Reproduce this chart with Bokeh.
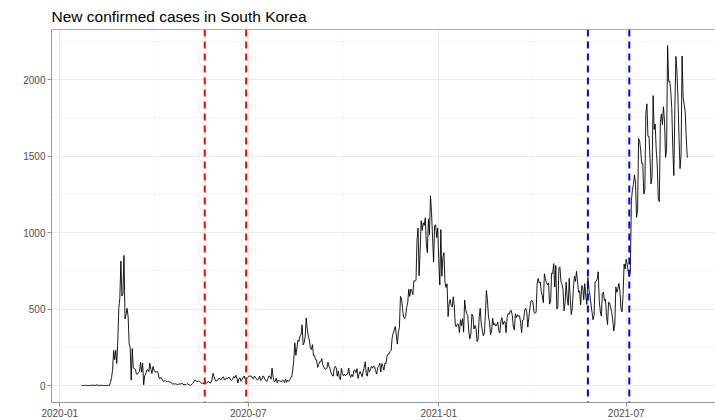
import pandas as pd
from bokeh.plotting import figure
from bokeh.models import (Range1d, FixedTicker, DatetimeTickFormatter, Span,
                          DatetimeAxis, ColumnDataSource)
from bokeh.embed import file_html
from bokeh.resources import INLINE

# ---------------- data (daily new confirmed cases) -------
START_DATE = "2020-01-22"

m2020_01 = [1, 0, 0, 1, 1, 0, 1, 0, 0, 2]
m2020_02 = [1, 3, 0, 1, 2, 5, 1, 0, 3, 0, 1, 0, 0, 0, 0, 1, 1, 1, 20, 53,
            100, 229, 169, 231, 144, 284, 505, 571, 813]
m2020_03 = [586, 599, 851, 435, 467, 505, 448, 272, 248, 35, 242, 114, 110, 107, 76,
            74, 84, 93, 152, 87, 147, 5, 64, 76, 100, 104, 91, 146, 105, 78, 125]
m2020_04 = [101, 89, 86, 94, 81, 47, 47, 53, 39, 27, 30, 32, 25, 27, 27,
            22, 22, 18, 8, 13, 9, 11, 8, 6, 10, 10, 10, 14, 9, 4]
m2020_05 = [9, 6, 13, 8, 3, 2, 4, 12, 18, 34, 35, 27, 26, 29, 27, 19,
            13, 15, 13, 32, 12, 20, 23, 25, 16, 19, 40, 79, 58, 39, 27]
m2020_06 = [35, 38, 49, 39, 39, 51, 57, 38, 38, 50, 45, 56, 49, 37, 34,
            43, 59, 49, 67, 48, 17, 46, 51, 28, 39, 51, 62, 42, 43, 50]
m2020_07 = [54, 63, 61, 63, 48, 44, 62, 50, 45, 35, 44, 62, 33, 39, 61, 60,
            39, 34, 26, 45, 63, 59, 41, 113, 58, 25, 28, 48, 18, 36, 31]
m2020_08 = [30, 23, 34, 33, 20, 43, 20, 36, 28, 34, 54, 56, 103, 166, 279, 197,
            246, 297, 288, 324, 332, 397, 266, 280, 320, 441, 371, 323, 299, 248, 235]
m2020_09 = [267, 195, 198, 168, 167, 119, 136, 156, 155, 176, 136, 121, 109, 106, 113,
            153, 126, 110, 82, 70, 61, 110, 125, 114, 61, 95, 50, 38, 113, 77]
m2020_10 = [63, 75, 64, 73, 75, 114, 69, 54, 72, 58, 97, 102, 84, 110, 47, 73,
            91, 76, 58, 91, 121, 155, 77, 61, 119, 88, 103, 125, 114, 127, 124]
m2020_11 = [97, 75, 118, 125, 145, 89, 143, 126, 100, 146, 143, 191, 205, 208, 223,
            230, 313, 343, 363, 386, 330, 271, 349, 382, 583, 569, 504, 450, 438, 451]
m2020_12 = [511, 540, 629, 583, 631, 615, 594, 686, 682, 689, 950, 1030, 718, 880, 1078,
            1014, 1064, 1047, 1097, 926, 869, 1090, 985, 1241, 1132, 970, 808, 1046,
            1050, 967, 1029]
m2021_01 = [824, 657, 1020, 715, 838, 869, 674, 641, 665, 451, 537, 562, 524, 513, 580,
            520, 389, 386, 404, 400, 346, 431, 392, 437, 349, 559, 497, 469, 458, 355, 305]
m2021_02 = [336, 467, 451, 370, 393, 372, 288, 303, 444, 504, 403, 362, 326, 344,
            457, 621, 561, 448, 416, 332, 356, 440, 396, 406, 388, 395, 415, 356]
m2021_03 = [344, 424, 444, 398, 418, 416, 346, 446, 470, 465, 488, 490, 459, 382, 363,
            469, 445, 463, 452, 456, 415, 346, 428, 430, 494, 505, 482, 382, 447, 506, 551]
m2021_04 = [557, 543, 477, 473, 478, 668, 700, 671, 677, 614, 587, 542, 731, 698, 673,
            658, 672, 532, 549, 735, 731, 797, 644, 785, 500, 512, 769, 775, 679, 661]
m2021_05 = [627, 488, 541, 676, 574, 525, 701, 564, 463, 511, 635, 715, 681, 747, 681,
            610, 619, 528, 654, 646, 561, 666, 585, 530, 707, 629, 587, 533, 480, 430, 459]
m2021_06 = [677, 681, 695, 744, 556, 485, 454, 602, 611, 556, 565, 452, 399, 545, 540,
            507, 482, 429, 357, 395, 645, 610, 634, 668, 614, 501, 482, 595, 794, 762]
m2021_07 = [826, 794, 743, 711, 746, 1212, 1275, 1316, 1378, 1324, 1100, 1150, 1615,
            1600, 1536, 1452, 1454, 1252, 1278, 1781, 1842, 1630, 1629, 1487, 1318,
            1365, 1896, 1674, 1710, 1539, 1442]
m2021_08 = [1219, 1202, 1725, 1776, 1704, 1823, 1729, 1492, 1537, 2223, 1987, 1990,
            1930, 1816, 1556, 1373, 1805, 2152, 2052, 1880, 1628, 1418, 1509, 2155,
            1880, 1840, 1790, 1620, 1490]

cases = (m2020_01 + m2020_02 + m2020_03 + m2020_04 + m2020_05 + m2020_06 +
         m2020_07 + m2020_08 + m2020_09 + m2020_10 + m2020_11 + m2020_12 +
         m2021_01 + m2021_02 + m2021_03 + m2021_04 + m2021_05 + m2021_06 +
         m2021_07 + m2021_08)

red_dates = ["2020-05-20", "2020-06-29"]
blue_dates = ["2021-05-25", "2021-07-04"]

x_tick_dates = ["2020-01-01", "2020-07-01", "2021-01-01", "2021-07-01"]
x_minor_dates = ["2020-04-01", "2020-10-01", "2021-04-01"]
y_ticks = [0, 500, 1000, 1500, 2000]
y_minor = [250, 750, 1250, 1750, 2250]

TITLE = "New confirmed cases in South Korea"

# ---------------- build ------------------------------------------------------
dates = pd.date_range(START_DATE, periods=len(cases), freq="D")
src = ColumnDataSource(data=dict(date=dates, cases=cases))


def ms(d):
    return pd.Timestamp(d).value / 1e6


FONT = "Liberation Sans"

p = figure(width=715, height=420, x_axis_type="datetime",
           output_backend="svg", toolbar_location=None,
           x_range=Range1d(pd.Timestamp("2019-12-24").to_pydatetime(),
                           pd.Timestamp("2021-09-25 06:00").to_pydatetime()),
           y_range=Range1d(-111, 2328),
           min_border_left=51, min_border_right=0, min_border_top=10,
           min_border_bottom=18, title=TITLE)

p.background_fill_color = "white"
p.border_fill_color = "white"
p.outline_line_color = None

p.title.text_font = FONT
p.title.text_font_size = "15.5px"
p.title.text_font_style = "normal"
p.title.text_color = "black"
p.title.align = "left"

# grids
for g in (p.xgrid, p.ygrid):
    g.grid_line_color = "#ebebeb"
    g.grid_line_width = 1
    g.minor_grid_line_color = "#f3f3f3"
    g.minor_grid_line_width = 0.7

p.xaxis.ticker = FixedTicker(ticks=[ms(d) for d in x_tick_dates],
                             minor_ticks=[ms(d) for d in x_minor_dates])
p.xaxis.formatter = DatetimeTickFormatter(
    milliseconds="%Y-%m", seconds="%Y-%m", minsec="%Y-%m", minutes="%Y-%m",
    hourmin="%Y-%m", hours="%Y-%m", days="%Y-%m", months="%Y-%m", years="%Y-%m")
p.yaxis.ticker = FixedTicker(ticks=y_ticks, minor_ticks=y_minor)

for ax in (p.xaxis, p.yaxis):
    ax.major_label_text_font = FONT
    ax.major_label_text_font_size = "10px"
    ax.major_label_text_color = "#4d4d4d"
    ax.major_tick_out = 4
    ax.major_tick_in = 0
    ax.minor_tick_out = 0
    ax.minor_tick_in = 0
    ax.axis_line_color = "#9a9a9a"
    ax.major_tick_line_color = "#8a8a8a"
    ax.major_label_standoff = 2

# top border of the panel
top = DatetimeAxis(ticker=FixedTicker(ticks=[]), axis_line_color="#b0b0b0",
                   major_tick_out=0, major_tick_in=0, minor_tick_out=0,
                   minor_tick_in=0, major_label_text_font_size="0px",
                   major_label_standoff=0)
p.add_layout(top, "above")

p.line(x="date", y="cases", source=src, line_color="black", line_width=0.9)

for d in red_dates:
    p.add_layout(Span(location=ms(d), dimension="height", line_color="#ff0000",
                      line_width=2, line_dash="7 5"))
for d in blue_dates:
    p.add_layout(Span(location=ms(d), dimension="height", line_color="#0000ff",
                      line_width=2, line_dash="7 5"))

open("out.html", "w").write(file_html(p, INLINE))
